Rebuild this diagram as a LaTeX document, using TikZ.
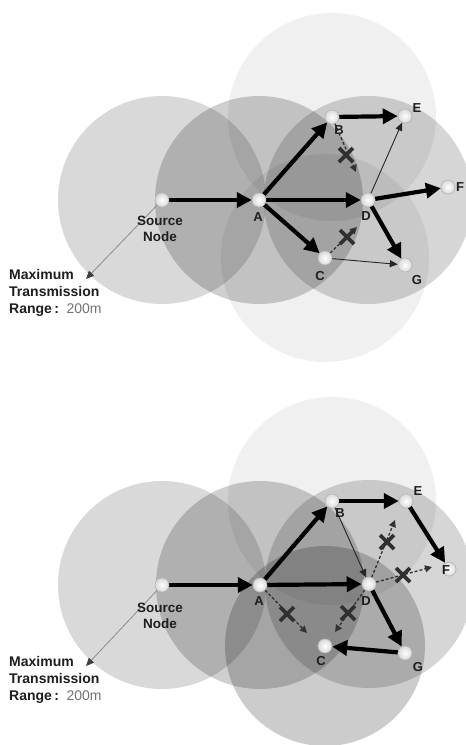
\documentclass[tikz,border=0pt]{standalone}
\usepackage{fontspec}
\setmainfont{Liberation Sans}
\usetikzlibrary{arrows.meta}
\definecolor{ink}{HTML}{1E1E1E}
\definecolor{xcol}{HTML}{303030}
\begin{document}
\begin{tikzpicture}[x=1pt,y=-1pt,
  rng/.style={fill=black,fill opacity=#1,draw=none},
  dev/.style={circle,inner sep=0pt,minimum size=14pt,draw=black!30,line width=0.5pt,inner color=white,outer color=black!15},
  lbl/.style={font=\bfseries\fontsize{13}{13}\selectfont,text=ink,inner sep=0pt},
  src/.style={font=\bfseries\fontsize{13.5}{13.5}\selectfont,text=ink,inner sep=0pt,anchor=base},
  maxt/.style={font=\bfseries\fontsize{14}{14}\selectfont,text=ink,inner sep=0pt,anchor=base west},
  bigarrow/.style={line width=4.2pt,draw=black,-{Triangle[length=15pt,width=15pt]}},
  thinarrow/.style={line width=0.9pt,draw=black!85,-{Triangle[length=8pt,width=7pt]}},
  dasharrow/.style={line width=1.3pt,draw=black!80,dash pattern=on 3pt off 2pt,-{Triangle[length=7pt,width=7pt]}},
  pointer/.style={line width=0.8pt,draw=black!45,-{Triangle[length=8pt,width=7pt,color=black!75]}},
  xm/.style={line width=3.8pt,draw=xcol}]
\useasboundingbox (0,0) rectangle (466,745);
\fill[white] (0,0) rectangle (466,745);

% ================= TOP PANEL =================
\fill[rng=0.06] (332,117) circle (104);
\fill[rng=0.06] (325,258) circle (104);
\fill[rng=0.16] (368,200) circle (104);
\fill[rng=0.15] (162,200) circle (104);
\fill[rng=0.19] (259,200) circle (104);

\node[dev] (s1) at (162,200) {};
\node[dev] (a1) at (259,200) {};
\node[dev] (b1) at (332,117) {};
\node[dev] (c1) at (325,258) {};
\node[dev] (d1) at (368,200) {};
\node[dev] (e1) at (405,116) {};
\node[dev] (f1) at (448,187) {};
\node[dev] (g1) at (405,265) {};
\coordinate (t1a) at (356,172);
\coordinate (t1b) at (357,227);
\coordinate (m1) at (86,279);

\draw[bigarrow] (s1) -- (a1);
\draw[bigarrow] (a1) -- (b1);
\draw[bigarrow] (a1) -- (d1);
\draw[bigarrow] (a1) -- (c1);
\draw[bigarrow] (b1) -- (e1);
\draw[bigarrow] (d1) -- (f1);
\draw[bigarrow] (d1) -- (g1);
\draw[thinarrow] (d1) -- (e1);
\draw[thinarrow] (c1) -- (g1);
\draw[dasharrow] (b1) -- (t1a);
\draw[dasharrow] (c1) -- (t1b);
\draw[xm] (346,155) +(-7,-7) -- +(7,7) +(-7,7) -- +(7,-7);
\draw[xm] (347,237) +(-7,-7) -- +(7,7) +(-7,7) -- +(7,-7);
\draw[pointer] (s1) -- (m1);

\foreach \n in {s1,a1,b1,c1,d1,e1,f1,g1} \node[dev] at (\n) {};

\node[lbl] (la1) at (258,217) {A};
\node[lbl] (lb1) at (339,130) {B};
\node[lbl] (lc1) at (320,276) {C};
\node[lbl] (ld1) at (366,216) {D};
\node[lbl] (le1) at (417,108) {E};
\node[lbl] (lf1) at (460,187) {F};
\node[lbl] (lg1) at (417,280) {G};
\node[src] (so1) at (160,225) {Source};
\node[src] (no1) at (160,241) {Node};
\node[maxt] (mx1) at (9,279) {Maximum};
\node[maxt] (tr1) at (9,296) {Transmission};
\node[maxt] (ra1) at (9,313) {Range\,:\, \mdseries\color{black!55}200m};

% ================= BOTTOM PANEL =================
\fill[rng=0.06] (332,501) circle (104);
\fill[rng=0.16] (369,584) circle (104);
\fill[rng=0.15] (162,585) circle (104);
\fill[rng=0.19] (260,585) circle (104);
\fill[rng=0.2] (325,646) circle (100);

\node[dev] (s2) at (162,585) {};
\node[dev] (a2) at (260,585) {};
\node[dev] (b2) at (332,501) {};
\node[dev] (c2) at (325,646) {};
\node[dev] (d2) at (369,584) {};
\node[dev] (e2) at (406,501) {};
\node[dev] (f2) at (449,569) {};
\node[dev] (g2) at (405,653) {};
\coordinate (t2a) at (307,633);
\coordinate (t2b) at (335,632);
\coordinate (t2c) at (395,520);
\coordinate (t2d) at (432,567);
\coordinate (m2) at (86,666);

\draw[bigarrow] (s2) -- (a2);
\draw[bigarrow] (a2) -- (b2);
\draw[bigarrow] (a2) -- (d2);
\draw[bigarrow] (b2) -- (e2);
\draw[bigarrow] (e2) -- (f2);
\draw[bigarrow] (d2) -- (g2);
\draw[bigarrow] (g2) -- (c2);
\draw[thinarrow] (b2) -- (d2);
\draw[dasharrow] (a2) -- (t2a);
\draw[dasharrow] (d2) -- (t2b);
\draw[dasharrow] (d2) -- (t2c);
\draw[dasharrow] (d2) -- (t2d);
\draw[xm] (287,614) +(-7,-7) -- +(7,7) +(-7,7) -- +(7,-7);
\draw[xm] (348,613) +(-7,-7) -- +(7,7) +(-7,7) -- +(7,-7);
\draw[xm] (387,542) +(-7,-7) -- +(7,7) +(-7,7) -- +(7,-7);
\draw[xm] (403,575) +(-7,-7) -- +(7,7) +(-7,7) -- +(7,-7);
\draw[pointer] (s2) -- (m2);

\foreach \n in {s2,a2,b2,c2,d2,e2,f2,g2} \node[dev] at (\n) {};

\node[lbl] (la2) at (259,601) {A};
\node[lbl] (lb2) at (340,513) {B};
\node[lbl] (lc2) at (321,661) {C};
\node[lbl] (ld2) at (366,601) {D};
\node[lbl] (le2) at (418,491) {E};
\node[lbl] (lf2) at (446,570) {F};
\node[lbl] (lg2) at (418,667) {G};
\node[src] (so2) at (160,612) {Source};
\node[src] (no2) at (160,628) {Node};
\node[maxt] (mx2) at (9,666) {Maximum};
\node[maxt] (tr2) at (9,683) {Transmission};
\node[maxt] (ra2) at (9,700) {Range\,:\, \mdseries\color{black!55}200m};
\end{tikzpicture}
\end{document}
